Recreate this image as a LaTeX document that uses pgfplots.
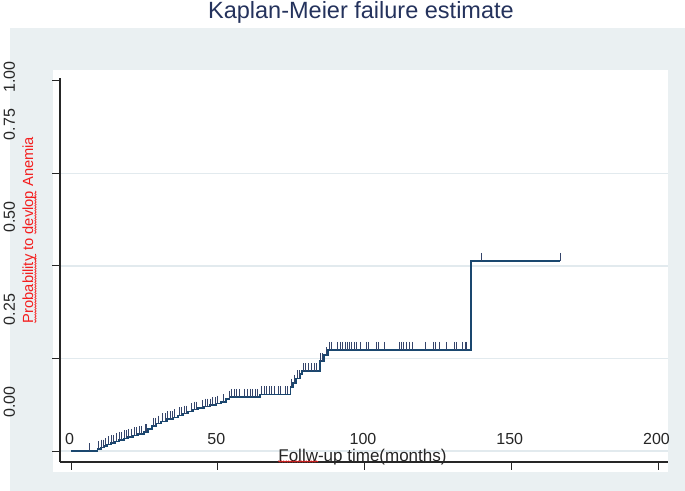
\documentclass[border=0pt]{standalone}
\usepackage{pgfplots}
\pgfplotsset{compat=1.18}
\usepackage{fontspec}
\setmainfont{Liberation Sans}
\usetikzlibrary{decorations.pathmorphing}
\definecolor{bgc}{HTML}{EAF0F2}
\definecolor{gridc}{HTML}{E2EAEE}
\definecolor{kmnavy}{HTML}{1A476F}
\definecolor{titlec}{HTML}{24325C}
\definecolor{censc}{HTML}{34446A}
\definecolor{labred}{HTML}{F41E1E}

\pgfplotstableread{
t p
0 0
9.1 0.005
10.2 0.009
11.2 0.0135
12.3 0.018
13.6 0.022
15.0 0.026
16.4 0.030
18.1 0.034
19.4 0.038
21.1 0.042
22.8 0.046
24.9 0.051
26.2 0.059
27.6 0.068
29.0 0.074
30.7 0.080
32.7 0.086
34.8 0.091
36.5 0.096
38.2 0.101
39.9 0.107
41.6 0.112
43.3 0.116
45.3 0.120
47.4 0.124
49.4 0.128
51.1 0.132
52.8 0.141
54.0 0.146
64.4 0.153
74.8 0.173
75.6 0.184
76.7 0.196
78.0 0.208
78.7 0.216
84.8 0.243
86.2 0.259
87.6 0.273
136.3 0.514
166.6 0.514
}\kmcurve

\pgfplotstableread{
t p
6.47 0
9.30 0.005
10.22 0.009
11.00 0.009
11.82 0.0135
12.71 0.018
13.63 0.022
14.41 0.022
15.57 0.026
16.46 0.030
17.27 0.030
18.16 0.034
18.98 0.034
19.52 0.038
20.68 0.038
21.47 0.042
22.39 0.042
23.17 0.046
24.09 0.046
25.21 0.051
25.79 0.051
28.04 0.068
28.86 0.068
29.74 0.074
31.11 0.080
32.03 0.080
32.95 0.086
33.73 0.086
34.51 0.086
35.43 0.091
36.80 0.096
37.72 0.096
38.60 0.101
39.42 0.101
41.12 0.107
41.91 0.112
42.83 0.112
44.87 0.116
45.66 0.120
46.44 0.120
47.36 0.120
48.28 0.124
49.06 0.124
49.85 0.128
51.89 0.132
53.94 0.141
54.75 0.146
55.64 0.146
56.46 0.146
57.34 0.146
59.28 0.146
60.07 0.146
60.99 0.146
61.91 0.146
62.69 0.146
63.61 0.146
64.97 0.153
65.76 0.153
66.68 0.153
67.56 0.153
68.38 0.153
69.17 0.153
70.63 0.153
71.45 0.153
72.91 0.153
73.70 0.153
75.20 0.173
75.98 0.184
77.10 0.196
77.68 0.196
79.15 0.216
79.97 0.216
80.85 0.216
81.77 0.216
82.90 0.216
83.71 0.216
85.08 0.243
85.77 0.243
87.12 0.259
88.01 0.273
88.59 0.273
90.87 0.273
91.65 0.273
92.44 0.273
93.36 0.273
94.14 0.273
94.82 0.273
95.64 0.273
96.42 0.273
97.10 0.273
98.47 0.273
100.51 0.273
101.43 0.273
103.92 0.273
104.70 0.273
106.75 0.273
111.75 0.273
112.44 0.273
113.22 0.273
114.14 0.273
115.26 0.273
116.42 0.273
120.61 0.273
123.44 0.273
124.26 0.273
125.38 0.273
128.01 0.273
130.60 0.273
131.41 0.273
133.46 0.273
134.24 0.273
134.82 0.273
139.69 0.514
166.61 0.514
}\kmcens

\begin{document}
\begin{tikzpicture}
\useasboundingbox (0bp,0bp) rectangle (685bp,491bp);
\fill[bgc] (10bp,0bp) rectangle (685bp,463bp);
\fill[white] (53bp,19bp) rectangle (668bp,421bp);
\begin{axis}[
  at={(60bp,29bp)}, anchor=south west, scale only axis,
  width=608bp, height=384bp,
  xmin=-3.75, xmax=203.4, ymin=-0.0297, ymax=1.008,
  axis lines*=left,
  axis line style={line width=1.1bp, black!85},
  tick align=outside, major tick length=7.5bp,
  tick style={line width=1bp, black!85},
  xtick={0,50,100,150,200}, xticklabels={0,50,100,150,200},
  ytick={0,0.25,0.5,0.75}, yticklabels={0.00,0.25,0.50,0.75},
  extra y ticks={1}, extra y tick labels={1.00},
  extra y tick style={grid=none, yticklabel style={xshift=-45bp}},
  ymajorgrids, grid style={gridc, line width=1.3bp},
  /pgf/number format/assume math mode=true,
  tick label style={font=\fontsize{16bp}{18bp}\selectfont, black!85},
  xticklabel style={anchor=base, xshift=-1.5bp, yshift=25.2bp},
  yticklabel style={xshift=-37.5bp, yshift=49bp, rotate=90, anchor=base},
  title={Kaplan-Meier failure estimate},
  title style={at={(axis description cs:0.495,1.139)}, anchor=base,
    font=\fontsize{23.5bp}{26bp}\selectfont, text=titlec},
  xlabel={Follw-up time(months)},
  every axis x label/.style={at={(axis description cs:0.4975,0.0026)}, anchor=base,
    font=\fontsize{17bp}{19bp}\selectfont, text=black!85},
  ylabel={Probability to devlop Anemia},
  every axis y label/.style={at={(axis description cs:-0.0444,0.604)}, rotate=90, anchor=base,
    font=\fontsize{14.7bp}{17bp}\selectfont, text=labred},
  clip=false,
]
\addplot[const plot, kmnavy, line width=1.5bp] table[x=t, y=p] {\kmcurve};
\addplot[only marks, mark=|, mark size=4bp, censc, mark options={line width=1bp, yshift=4bp}] table[x=t, y=p] {\kmcens};
\end{axis}
\draw[labred, line width=0.6bp, decorate, decoration={snake, amplitude=0.7bp, segment length=2.5bp}] (278bp,29.5bp) -- (318bp,29.5bp);
\draw[labred, line width=0.6bp, decorate, decoration={snake, amplitude=0.7bp, segment length=2.5bp}] (35.5bp,168bp) -- (35.5bp,237bp);
\draw[labred, line width=0.6bp, decorate, decoration={snake, amplitude=0.7bp, segment length=2.5bp}] (35.5bp,257bp) -- (35.5bp,300bp);
\end{tikzpicture}
\end{document}
